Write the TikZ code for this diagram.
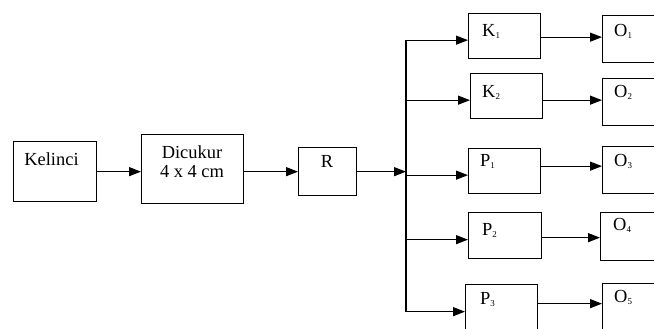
\documentclass[tikz,border=0pt]{standalone}
\usepackage{fontspec}
\setmainfont{Liberation Serif}
\usetikzlibrary{arrows, arrows.meta}
\newcommand{\sbs}[1]{\textsubscript{\fontsize{9}{9}\selectfont #1}}

\begin{document}
\begin{tikzpicture}[x=1bp, y=-1bp, font=\fontsize{18.5}{19}\selectfont,
    box/.style={draw, line width=1.3bp, inner sep=0pt, anchor=north west},
    txt/.style={anchor=base west, inner sep=0pt},
    ctxt/.style={anchor=base, inner sep=0pt},
    >={Triangle[length=12bp,width=9bp]}]
    \useasboundingbox (0,0) rectangle (654,328);
    \clip (0,0) rectangle (654,328);

    % boxes
    \node[box, minimum width=83bp, minimum height=60bp] (kel) at (13,141) {};
    \node[box, minimum width=102bp, minimum height=69bp] (dic) at (141,134) {};
    \node[box, minimum width=58bp, minimum height=48bp] (r) at (298,147) {};

    \node[box, minimum width=72bp, minimum height=45bp] (k1) at (468,13) {};
    \node[box, minimum width=72bp, minimum height=45bp] (k2) at (470,73) {};
    \node[box, minimum width=72bp, minimum height=45bp] (p1) at (468,148) {};
    \node[box, minimum width=73bp, minimum height=46bp] (p2) at (468,212) {};
    \node[box, minimum width=72bp, minimum height=46bp] (p3) at (465,284) {};

    \node[box, minimum width=70bp, minimum height=47bp] (o1) at (602,15) {};
    \node[box, minimum width=70bp, minimum height=47bp] (o2) at (602,78) {};
    \node[box, minimum width=70bp, minimum height=47bp] (o3) at (602,146) {};
    \node[box, minimum width=70bp, minimum height=48bp] (o4) at (600,212) {};
    \node[box, minimum width=70bp, minimum height=47bp] (o5) at (602,283) {};

    % texts
    \node[ctxt] (kelt) at (51.5,165) {Kelinci};
    \node[ctxt] (dict1) at (192,158) {Dicukur};
    \node[ctxt] (dict2) at (192,177) {4 x 4 cm};
    \node[ctxt] (rt) at (327,167) {R};

    \node[txt] (k1t) at (482,36) {K\sbs{1}};
    \node[txt] (k2t) at (482,97) {K\sbs{2}};
    \node[txt] (p1t) at (480,166) {P\sbs{1}};
    \node[txt] (p2t) at (482,235) {P\sbs{2}};
    \node[txt] (p3t) at (480,304) {P\sbs{3}};

    \node[txt] (o1t) at (614,36) {O\sbs{1}};
    \node[txt] (o2t) at (614,97) {O\sbs{2}};
    \node[txt] (o3t) at (614,166) {O\sbs{3}};
    \node[txt] (o4t) at (613,230) {O\sbs{4}};
    \node[txt] (o5t) at (614,302) {O\sbs{5}};

    % connectors
    \coordinate (jn) at (406,171);
    \draw[line width=1.3bp, ->] (kel.east) -- (kel.east -| dic.west);
    \draw[line width=1.3bp, ->] (dic.east |- kel.east) -- (kel.east -| r.west);
    \draw[line width=1.3bp, ->] (r.east) -- (r.east -| jn);
    \draw[line width=1.3bp] ([yshift=-4bp]k1.west -| jn) -- ([yshift=-4bp]p3.west -| jn);
    \foreach \b in {k1,k2,p1,p2,p3}
        \draw[line width=1.3bp, ->] ([yshift=-4bp]\b.west -| jn) -- ([yshift=-4bp]\b.west);
    \foreach \a/\b/\s in {k1/o1/-1, k2/o2/-4, p1/o3/5, p2/o4/-2, p3/o5/4}
        \draw[line width=1.3bp, ->] ([yshift=\s bp]\a.east) -- ([yshift=\s bp]\a.east -| \b.west);
\end{tikzpicture}
\end{document}
